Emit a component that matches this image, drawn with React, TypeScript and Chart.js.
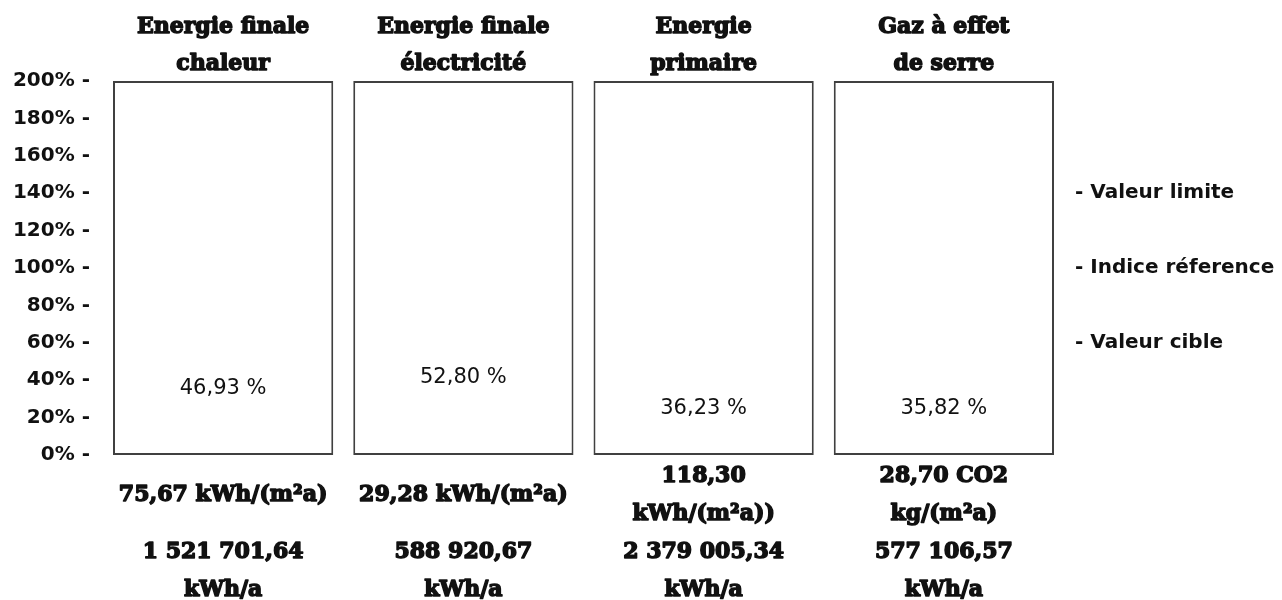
import React, { useEffect, useRef } from "react";
import { Chart, registerables } from "chart.js";

Chart.register(...registerables);

const categoryTitles: string[][] = [
  ["Energie finale", "chaleur"],
  ["Energie finale", "électricité"],
  ["Energie", "primaire"],
  ["Gaz à effet", "de serre"],
];
const percentValues: number[] = [46.93, 52.8, 36.23, 35.82];
const percentLabels: string[] = ["46,93 %", "52,80 %", "36,23 %", "35,82 %"];
const specificLabels: string[][] = [
  ["75,67 kWh/(m²a)"],
  ["29,28 kWh/(m²a)"],
  ["118,30", "kWh/(m²a))"],
  ["28,70 CO2", "kg/(m²a)"],
];
const annualLabels: string[][] = [
  ["1 521 701,64", "kWh/a"],
  ["588 920,67", "kWh/a"],
  ["2 379 005,34", "kWh/a"],
  ["577 106,57", "kWh/a"],
];
const frameMax: number[] = [200, 200, 200, 200];
const leftTicks: number[] = [0, 20, 40, 60, 80, 100, 120, 140, 160, 180, 200];
const rightTickValues: number[] = [60, 100, 140];
const rightTickLabels: string[] = ["- Valeur cible", "- Indice réference", "- Valeur limite"];

const SANS = "'DejaVu Sans', sans-serif";
const SLAB = "'DejaVu Serif', serif";

export default function App() {
  const ref = useRef<HTMLCanvasElement | null>(null);
  useEffect(() => {
    if (!ref.current) return;
    const heavy = (ctx: any, t: string, x: number, y: number) => {
      ctx.strokeText(t, x, y);
      ctx.fillText(t, x, y);
    };
    const textPlugin = {
      id: "texts",
      afterDatasetsDraw(chart: any) {
        const ctx = chart.ctx;
        const x = chart.scales.x;
        const y = chart.scales.y;
        ctx.save();
        ctx.fillStyle = "#111";
        ctx.strokeStyle = "#111";
        ctx.lineWidth = 1.5;
        ctx.lineJoin = "round";
        ctx.textAlign = "center";
        ctx.textBaseline = "middle";
        categoryTitles.forEach((lines, i) => {
          const cx = x.getPixelForValue(i);
          ctx.font = `bold 22px ${SLAB}`;
          lines.forEach((l, j) => heavy(ctx, l, cx, 19 + j * 37));
          ctx.font = `400 21px ${SANS}`;
          ctx.fillText(percentLabels[i], cx, y.getPixelForValue(percentValues[i]) + 21);
          ctx.font = `bold 22px ${SLAB}`;
          const sl = specificLabels[i];
          const c1 = 487;
          sl.forEach((l, j) => heavy(ctx, l, cx, c1 + (j - (sl.length - 1) / 2) * 38));
          annualLabels[i].forEach((l, j) => heavy(ctx, l, cx, 544 + j * 38));
        });
        ctx.restore();
      },
    };
    const chart = new Chart(ref.current, {
      type: "bar",
      data: {
        labels: categoryTitles.map((t) => t.join(" ")),
        datasets: [
          {
            label: "frame",
            data: frameMax,
            backgroundColor: "#ffffff",
            borderColor: "#404040",
            borderWidth: 2,
            borderSkipped: false,
            grouped: false,
            categoryPercentage: 1,
            barPercentage: 220.25 / 240.25,
            order: 2,
          } as any,
          {
            label: "value",
            data: percentValues,
            backgroundColor: "rgba(0,0,0,0)",
            borderWidth: 0,
            grouped: false,
            categoryPercentage: 1,
            barPercentage: 220.25 / 240.25,
            order: 1,
          } as any,
        ],
      },
      options: {
        animation: false,
        responsive: true,
        maintainAspectRatio: false,
        layout: { padding: { top: 73, bottom: 145, left: 0, right: 0 } },
        plugins: { legend: { display: false }, tooltip: { enabled: false } },
        scales: {
          x: { display: false },
          y: {
            position: "left",
            min: 0,
            max: 200,
            grid: { display: false, drawTicks: false },
            border: { display: false },
            afterFit: (s: any) => {
              s.width = 95;
            },
            afterBuildTicks: (s: any) => {
              s.ticks = leftTicks.map((v) => ({ value: v }));
            },
            ticks: {
              padding: 13,
              color: "#111",
              font: { family: SANS, size: 20, weight: "bold" },
              callback: (v: any) => `${v}% -`,
            },
          },
          y2: {
            position: "right",
            min: 0,
            max: 200,
            grid: { display: false, drawTicks: false },
            border: { display: false },
            afterFit: (s: any) => {
              s.width = 210;
            },
            afterBuildTicks: (s: any) => {
              s.ticks = rightTickValues.map((v) => ({ value: v }));
            },
            ticks: {
              padding: 11,
              color: "#111",
              font: { family: SANS, size: 20, weight: "bold" },
              callback: (v: any) => rightTickLabels[rightTickValues.indexOf(Number(v))] ?? "",
            },
          },
        },
      } as any,
      plugins: [textPlugin],
    });
    return () => chart.destroy();
  }, []);
  return (
    <div style={{ width: 1266, height: 592, position: "relative" }}>
      <canvas ref={ref} />
    </div>
  );
}
